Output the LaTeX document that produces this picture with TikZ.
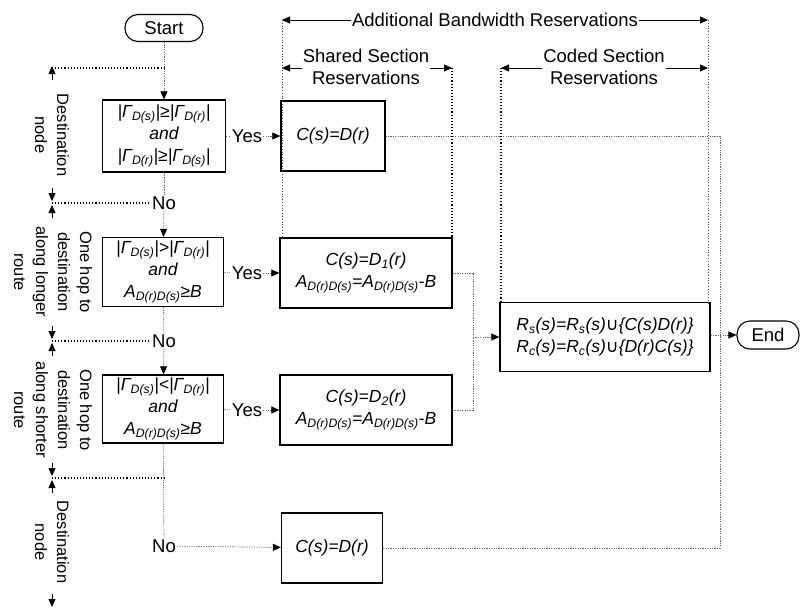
\documentclass[tikz,border=0pt]{standalone}
\usepackage{fontspec}
\setmainfont{Liberation Sans}
\newfontfamily\symfont{DejaVu Sans}
\usetikzlibrary{arrows.meta}
\newcommand{\sbs}[1]{\textsubscript{#1}}
\newcommand{\cupx}{{\symfont\upshape ∪}}
\begin{document}
\begin{tikzpicture}[x=1pt,y=-1pt,
  font=\fontsize{18.5}{22}\selectfont,
  tip/.style={-{Triangle[length=8pt,width=7pt,black]}},
  box/.style={draw,line width=1.3pt,align=center,inner sep=2pt,font=\fontsize{17.5}{22}\selectfont\itshape},
  term/.style={draw,line width=1.1pt,rounded corners=13pt,minimum height=27pt,inner sep=2pt},
  flow/.style={draw=black!60,line width=0.7pt,dash pattern=on 1.2pt off 1.2pt},
  guide/.style={draw=black,line width=1.1pt,dotted},
  lguide/.style={draw=black!70,line width=0.8pt,dotted},
  dim/.style={line width=0.8pt},
  side/.style={rotate=-90,align=center,inner sep=1pt,font=\fontsize{16.5}{22}\selectfont},
  lbl/.style={inner sep=1pt,align=center}
]
\useasboundingbox (0,0) rectangle (801,616);

% flow nodes
\node[term,minimum width=78pt] (start) at (164,28) {Start};
\node[box,minimum width=123pt,minimum height=72pt] (c1) at (164,136)
  {|Γ\sbs{D(s)}|≥|Γ\sbs{D(r)}|\\and\\|Γ\sbs{D(r)}|≥|Γ\sbs{D(s)}|};
\node[box,minimum width=121pt,minimum height=69pt] (c2) at (163,272)
  {|Γ\sbs{D(s)}|>|Γ\sbs{D(r)}|\\and\\A\sbs{D(r)D(s)}≥B};
\node[box,minimum width=121pt,minimum height=68pt] (c3) at (163,409)
  {|Γ\sbs{D(s)}|<|Γ\sbs{D(r)}|\\and\\A\sbs{D(r)D(s)}≥B};

\node[box,minimum width=104pt,minimum height=70pt] (s1) at (333,136) {C(s)=D(r)};
\node[box,minimum width=172pt,minimum height=70pt] (s2) at (366,273)
  {C(s)=D\sbs{1}(r)\\A\sbs{D(r)D(s)}=A\sbs{D(r)D(s)}-B};
\node[box,minimum width=172pt,minimum height=70pt] (s3) at (366,410)
  {C(s)=D\sbs{2}(r)\\A\sbs{D(r)D(s)}=A\sbs{D(r)D(s)}-B};
\node[box,minimum width=101pt,minimum height=70pt] (s4) at (332,548) {C(s)=D(r)};
\node[box,minimum width=210pt,minimum height=69pt] (cod) at (605,337)
  {R\sbs{s}(s)=R\sbs{s}(s)\cupx\{C(s)D(r)\}\\R\sbs{c}(s)=R\sbs{c}(s)\cupx\{D(r)C(s)\}};
\node[term,minimum width=62pt,minimum height=28pt] (end) at (768,335) {End};

% labels
\node[lbl] (yes1) at (247,136) {Yes};
\node[lbl] (yes2) at (247,273) {Yes};
\node[lbl] (yes3) at (247,410) {Yes};
\node[lbl] (no1) at (164,203) {No};
\node[lbl] (no2) at (164,341) {No};
\node[lbl] (no3) at (164,546) {No};

% flow connectors
\coordinate (j0) at (164,68);
\coordinate (j3) at (164,478);
\draw[flow,tip] (start) -- (c1);
\draw[flow] (c1) -- (no1);
\draw[flow,tip] (no1) -- (c2);
\draw[flow] (c2) -- (no2);
\draw[flow,tip] (no2) -- (c3);
\draw[flow] (c3) -- (no3);
\draw[flow,tip] (no3) -- (s4);
\draw[flow] (c1) -- (yes1);
\draw[flow,tip] (yes1) -- (s1);
\draw[flow] (c2) -- (yes2);
\draw[flow,tip] (yes2) -- (s2);
\draw[flow] (c3) -- (yes3);
\draw[flow,tip] (yes3) -- (s3);
\coordinate (m) at (473,337);
\draw[flow] (s2.east) -| (m);
\draw[flow] (s3.east) -| (m);
\draw[flow,tip] (m) -- (cod.west);
\coordinate (j) at (720,335);
\draw[flow] (s1.east) -| (j);
\draw[flow] (s4.east) -| (j);
\draw[flow,tip] (cod.east |- j) -- (end.west);

% left annotations
\coordinate (a0) at (52,66);
\coordinate (a1) at (52,201);
\coordinate (b0) at (52,205);
\coordinate (b1) at (52,339);
\coordinate (e0) at (52,343);
\coordinate (e1) at (52,476);
\coordinate (f0) at (52,480);
\coordinate (f1) at (52,607);
\draw[guide] (52,68) -- (j0);
\draw[guide] (52,203) -- (no1.west);
\draw[guide] (52,341) -- (no2.west);
\draw[guide] (52,478) -- (j3);
\draw[dim,tip] (52,80) -- (a0);
\draw[dim,tip] (52,188) -- (a1);
\draw[dim,tip] (52,218) -- (b0);
\draw[dim,tip] (52,326) -- (b1);
\draw[dim,tip] (52,356) -- (e0);
\draw[dim,tip] (52,463) -- (e1);
\draw[dim,tip] (52,493) -- (f0);
\draw[dim,tip] (52,594) -- (f1);
\node[side] (l1) at (52,135) {Destination\\node};
\node[side] (l2) at (53,272) {One hop to\\destination\\along longer\\route};
\node[side] (l3) at (53,410) {One hop to\\destination\\along shorter\\route};
\node[side] (l4) at (52,542) {Destination\\node};

% top dimension labels
\coordinate (t1) at (282,20);
\coordinate (t2) at (708,20);
\coordinate (u1) at (282,68);
\coordinate (u2) at (452,68);
\coordinate (v1) at (501,68);
\coordinate (v2) at (708,68);
\node[lbl] (add) at (495,20) {Additional Bandwidth Reservations};
\node[lbl] (shl) at (366,67) {Shared Section\\Reservations};
\node[lbl] (cdl) at (604,67) {Coded Section\\Reservations};
\draw[dim,tip] (add.west) -- (t1);
\draw[dim,tip] (add.east) -- (t2);
\draw[dim,tip] (shl.west |- u1) -- (u1);
\draw[dim,tip] (shl.east |- u2) -- (u2);
\draw[dim,tip] (cdl.west |- v1) -- (v1);
\draw[dim,tip] (cdl.east |- v2) -- (v2);
\draw[lguide] (t1) -- (282,238);
\draw[guide] (u2) -- (452,238);
\draw[guide] (v1) -- (501,303);
\draw[lguide] (t2) -- (708,303);
\end{tikzpicture}
\end{document}
